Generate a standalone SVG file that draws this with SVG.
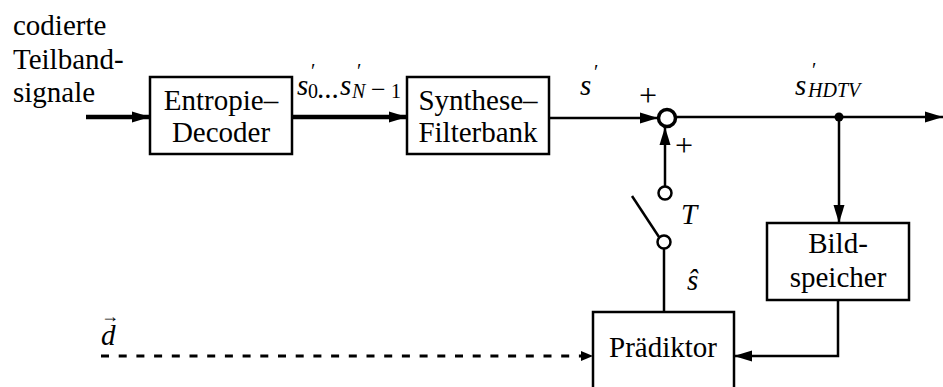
<svg xmlns="http://www.w3.org/2000/svg" width="943" height="387" viewBox="0 0 943 387">
<style>
text{font-family:"Liberation Serif","DejaVu Serif",serif;fill:#000}
.t{font-size:29px}
.m{font-size:29px;font-style:italic}
.sub{font-size:20px;font-style:italic}
.subn{font-size:20px}
.pl{font-size:32px}
.box{fill:#fff;stroke:#000;stroke-width:2.5}
.thin{stroke:#000;stroke-width:2.5;fill:none}
.thick{stroke:#000;stroke-width:4.5;fill:none}
</style>
<defs>
<marker id="ah" markerUnits="userSpaceOnUse" markerWidth="20" markerHeight="14" refX="18" refY="7" orient="auto"><path d="M0,1.5 L18,7 L0,12.5 Z" fill="#000"/></marker>
<marker id="ahs" markerUnits="userSpaceOnUse" markerWidth="14" markerHeight="12" refX="12" refY="6" orient="auto"><path d="M0,1 L12,6 L0,11 Z" fill="#000"/></marker>
</defs>

<g id="input-label">
<text class="t" x="13" y="35">codierte</text>
<text class="t" x="13" y="69">Teilband-</text>
<text class="t" x="13" y="102">signale</text>
</g>

<g id="entropie-decoder">
<rect class="box" x="150" y="77" width="142" height="77"/>
<text class="t" x="221" y="110" text-anchor="middle">Entropie–</text>
<text class="t" x="221" y="142" text-anchor="middle">Decoder</text>
</g>

<g id="synthese-filterbank">
<rect class="box" x="407" y="77" width="142" height="77"/>
<text class="t" x="478" y="110" text-anchor="middle">Synthese–</text>
<text class="t" x="478" y="142" text-anchor="middle">Filterbank</text>
</g>

<g id="bildspeicher">
<rect class="box" x="767" y="223" width="142" height="77"/>
<text class="t" x="838" y="253" text-anchor="middle">Bild-</text>
<text class="t" x="838" y="287" text-anchor="middle">speicher</text>
</g>

<g id="praediktor">
<rect class="box" x="593" y="312" width="141" height="90"/>
<text class="t" x="663" y="357" text-anchor="middle">Prädiktor</text>
</g>

<g id="summing-point">
<circle cx="667" cy="118" r="8.5" fill="#fff" stroke="#000" stroke-width="3.5"/>
<text class="pl" x="648" y="106" text-anchor="middle">+</text>
<text class="pl" x="684" y="156" text-anchor="middle">+</text>
</g>

<g id="switch-T">
<circle cx="665" cy="193" r="6.5" fill="#fff" stroke="#000" stroke-width="2.5"/>
<circle cx="664" cy="242" r="6.5" fill="#fff" stroke="#000" stroke-width="2.5"/>
<line class="thin" x1="632" y1="196" x2="659" y2="237"/>
<text class="m" x="681" y="224">T</text>
</g>

<g id="connectors">
<line class="thick" x1="86" y1="117" x2="150" y2="117" marker-end="url(#ah)"/>
<line class="thick" x1="292" y1="117" x2="407" y2="117" marker-end="url(#ah)"/>
<line class="thin" x1="549" y1="118" x2="658" y2="118" marker-end="url(#ah)"/>
<line class="thin" x1="665" y1="186.5" x2="665" y2="127" marker-end="url(#ah)"/>
<line class="thin" x1="676" y1="117" x2="943" y2="117" marker-end="url(#ah)"/>
<circle cx="839" cy="117" r="4.5" fill="#000"/>
<line class="thin" x1="839" y1="117" x2="839" y2="223" marker-end="url(#ah)"/>
<line class="thin" x1="664" y1="248.5" x2="664" y2="312"/>
<polyline class="thin" points="838,300 838,356 734,356" marker-end="url(#ah)"/>
<line stroke="#000" stroke-width="3" stroke-dasharray="8 9.7" x1="101" y1="356" x2="593" y2="356" marker-end="url(#ahs)"/>
</g>

<g id="labels">
<text class="m" x="297" y="95">s</text>
<text class="subn" x="308" y="98">0</text>
<text class="subn" x="311" y="78">′</text>
<text class="t" x="317" y="98">...</text>
<text class="m" x="340" y="95">s</text>
<text class="sub" x="352" y="98">N</text>
<text x="371" y="98" style="font-size:26px">−</text>
<text class="subn" x="391" y="98">1</text>
<text class="subn" x="357" y="78">′</text>

<text class="m" x="580" y="95">s</text>
<text class="subn" x="594" y="79">′</text>

<text class="m" x="795" y="95">s</text>
<text class="subn" x="812" y="77">′</text>
<text class="sub" x="808" y="97">HDTV</text>

<text class="m" x="687" y="290">ŝ</text>

<text><tspan class="m" x="101" y="345">d</tspan><tspan x="101" y="322" style="font-size:18px">→</tspan></text>
</g>
</svg>
